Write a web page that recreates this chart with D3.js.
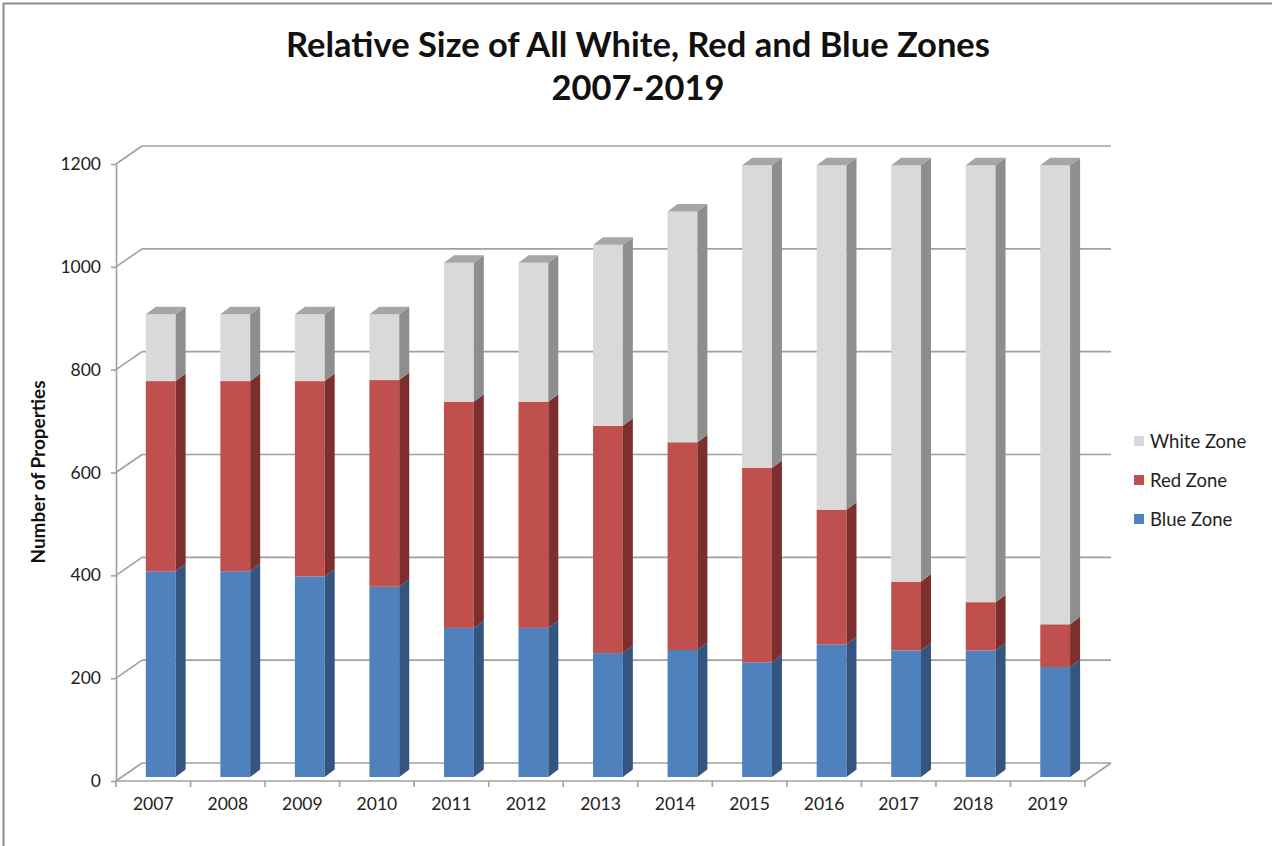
<!DOCTYPE html>
<html>
<head>
<meta charset="utf-8">
<script src="https://cdn.jsdelivr.net/npm/d3@7"></script>
<style>
  body { margin: 0; background: #fff; }
  svg { font-family: Lato, "Open Sans", sans-serif; }
</style>
</head>
<body>
<div id="chart"></div>
<script>
// values
const years = ["2007","2008","2009","2010","2011","2012","2013","2014","2015","2016","2017","2018","2019"];
const blueZone  = [400, 400, 390, 370, 290, 290, 241, 247, 223, 258, 246, 246, 214];
const redZone   = [370, 370, 380, 402, 440, 440, 442, 404, 378, 262, 134,  94,  83];
const whiteZone = [130, 130, 130, 128, 270, 270, 352, 449, 589, 670, 810, 850, 893];
const seriesNames = ["Blue Zone", "Red Zone", "White Zone"];
const yTicks = [0, 200, 400, 600, 800, 1000, 1200];

const colors = {
    "Blue Zone":  { front: "#4F81BD", side: "#34557F", top: "#4A76AE" },
    "Red Zone":   { front: "#C0504D", side: "#7D2F2E", top: "#A9403E" },
    "White Zone": { front: "#D9D9D9", side: "#8E8E8E", top: "#A6A6A6" }
};

const width = 1272, height = 846;
const wall = { dx: 26, dy: -18 };   // depth of the floor / side wall
const bar = { dx: 10, dy: -7.5, lift: 4 }; // bar depth and offset from front plane

let svg = d3.select("#chart").append("svg")
    .attr("width", width)
    .attr("height", height);

// frame
svg.append("rect")
    .attr("x", 3.5).attr("y", 3.5)
    .attr("width", 1300).attr("height", 900)
    .attr("fill", "none")
    .attr("stroke", "#8c8c8c")
    .attr("stroke-width", 2);

let x = d3.scaleBand().domain(years).range([116, 1085]).padding(0);
let y = d3.scaleLinear().domain([0, 1200]).range([781, 164]);

// back wall gridlines + left wall diagonals
let grid = svg.append("g").attr("stroke", "#a0a0a0").attr("stroke-width", 1.6).attr("fill", "none");
yTicks.forEach(v => {
    grid.append("line")
        .attr("x1", 116 + wall.dx).attr("y1", y(v) + wall.dy)
        .attr("x2", 1085 + wall.dx).attr("y2", y(v) + wall.dy);
    grid.append("line")
        .attr("x1", 116).attr("y1", y(v))
        .attr("x2", 116 + wall.dx).attr("y2", y(v) + wall.dy);
});
// floor front + right edge
grid.append("line").attr("x1", 116).attr("y1", y(0)).attr("x2", 1085).attr("y2", y(0));
grid.append("line").attr("x1", 1085).attr("y1", y(0)).attr("x2", 1085 + wall.dx).attr("y2", y(0) + wall.dy);

// stacked data
let rows = years.map((yr, i) => ({ year: yr, "Blue Zone": blueZone[i], "Red Zone": redZone[i], "White Zone": whiteZone[i] }));
let stacked = d3.stack().keys(seriesNames)(rows);

let bw = x.bandwidth() * 0.4;
let bars = svg.append("g");

years.forEach((yr, i) => {
    let x0 = x(yr) + x.bandwidth() * 0.4;
    let x1 = x0 + bw;
    stacked.forEach((layer, li) => {
        let d = layer[i];
        let yb = y(d[0]) - bar.lift, yt = y(d[1]) - bar.lift;
        let c = colors[layer.key];
        bars.append("rect")
            .attr("x", x0).attr("y", yt)
            .attr("width", bw).attr("height", yb - yt)
            .attr("fill", c.front);
        bars.append("path")
            .attr("d", `M${x1},${yb}L${x1},${yt}L${x1 + bar.dx},${yt + bar.dy}L${x1 + bar.dx},${yb + bar.dy}Z`)
            .attr("fill", c.side);
        if (li == stacked.length - 1) {
            bars.append("path")
                .attr("d", `M${x0},${yt}L${x1},${yt}L${x1 + bar.dx},${yt + bar.dy}L${x0 + bar.dx},${yt + bar.dy}Z`)
                .attr("fill", c.top);
        }
    });
});

// y axis
let yAxis = svg.append("g")
    .attr("transform", "translate(116,0)")
    .call(d3.axisLeft(y).tickValues(yTicks).tickFormat(d3.format("d")).tickSize(5).tickPadding(10).tickSizeOuter(0));
yAxis.select(".domain").attr("stroke", "#a0a0a0").attr("stroke-width", 1.6);
yAxis.selectAll(".tick line").attr("stroke", "#a0a0a0").attr("stroke-width", 1.6);
yAxis.selectAll("text").attr("font-size", 17.5).attr("fill", "#222").attr("font-family", "Lato");

// x axis labels + boundary ticks
let xAxis = svg.append("g")
    .attr("transform", "translate(0," + y(0) + ")")
    .call(d3.axisBottom(x).tickSize(0).tickPadding(17));
xAxis.select(".domain").remove();
xAxis.selectAll("text").attr("font-size", 17.5).attr("fill", "#222").attr("font-family", "Lato");

svg.append("g").selectAll("line")
    .data(years.concat(["end"]))
    .join("line")
    .attr("x1", (d, i) => 116 + i * x.step())
    .attr("x2", (d, i) => 116 + i * x.step())
    .attr("y1", y(0)).attr("y2", y(0) + 6)
    .attr("stroke", "#a0a0a0").attr("stroke-width", 1.6);

// axis title
svg.append("text")
    .attr("transform", "translate(45,472) rotate(-90)")
    .attr("text-anchor", "middle")
    .attr("font-size", 19).attr("font-weight", "bold")
    .attr("fill", "#111")
    .text("Number of Properties");

// chart title
let title = svg.append("text")
    .attr("text-anchor", "middle")
    .attr("font-size", 34.5).attr("font-weight", "bold").attr("fill", "#111");
title.append("tspan").attr("x", 638).attr("y", 57).text("Relative Size of All White, Red and Blue Zones");
title.append("tspan").attr("x", 638).attr("y", 100).text("2007-2019");

// legend
let legendItems = ["White Zone", "Red Zone", "Blue Zone"];
let legend = svg.append("g").selectAll("g")
    .data(legendItems)
    .join("g")
    .attr("transform", (d, i) => `translate(1134,${441 + i * 39})`);
legend.append("rect")
    .attr("x", 0).attr("y", -5).attr("width", 10).attr("height", 10)
    .attr("fill", d => colors[d].front);
legend.append("text")
    .attr("x", 16).attr("y", 6.5)
    .attr("font-size", 18.5).attr("fill", "#222")
    .text(d => d);
</script>
</body>
</html>
